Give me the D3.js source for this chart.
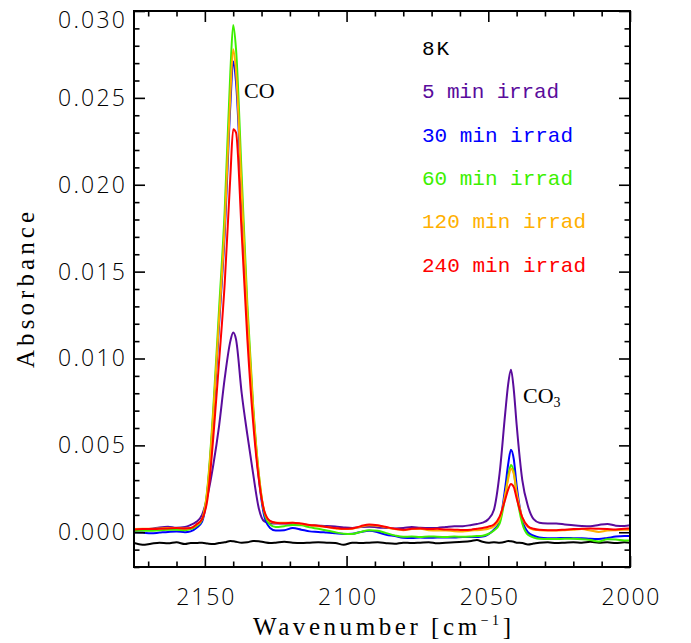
<!DOCTYPE html>
<html>
<head>
<meta charset="utf-8">
<script src="https://cdn.jsdelivr.net/npm/d3@7"></script>
<style>
  html, body { margin: 0; padding: 0; background: #fff; }
  svg { display: block; }
</style>
</head>
<body>
<svg id="chart" width="691" height="643"></svg>
<script>
// ---- DATA (absorbance in units of 10^-3) ----
const wavenumber = [2175,2172,2169,2166,2163,2160,2157,
  2155,2153,2151,2149,2147,2145,2143,2141,2140,2139,2137,2135,2133,2131,2129,2127,2125,
  2122,2119,2116,2113,2110,2107,2104,2101,2098,2095,2092,2089,2086,2083,2080,2077,2074,2071,2068,2065,2062,2059,2056,
  2054,2052,2050,2048,2046,2044,2043,2042,2041,2040,2038,2036,2034,2032,
  2029,2026,2023,2020,2017,2014,2011,2008,2005,2002,2000];

const k8 = [-0.62,-0.72,-0.66,-0.6,-0.64,-0.58,-0.68,
  -0.62,-0.62,-0.6,-0.65,-0.68,-0.62,-0.58,-0.5,-0.52,-0.55,-0.6,-0.58,-0.5,-0.52,-0.58,-0.62,-0.6,
  -0.55,-0.6,-0.62,-0.6,-0.58,-0.6,-0.62,-0.72,-0.6,-0.62,-0.6,-0.58,-0.63,-0.66,-0.6,-0.62,-0.6,-0.58,-0.64,-0.6,-0.58,-0.55,-0.5,
  -0.45,-0.55,-0.6,-0.58,-0.6,-0.55,-0.5,-0.52,-0.55,-0.6,-0.62,-0.7,-0.65,-0.6,
  -0.58,-0.62,-0.6,-0.58,-0.6,-0.55,-0.6,-0.58,-0.62,-0.58,-0.6];

const irrad5 = [0.15,0.18,0.2,0.28,0.32,0.26,0.3,
  0.42,0.6,1.0,2.15,3.9,6.1,8.85,11.0,11.5,11.1,8.0,5.6,3.4,1.4,0.62,0.52,0.5,
  0.5,0.48,0.45,0.4,0.38,0.36,0.33,0.28,0.25,0.3,0.32,0.28,0.25,0.22,0.24,0.3,0.26,0.24,0.25,0.3,0.35,0.35,0.42,
  0.48,0.55,0.75,1.3,3.4,6.9,8.5,9.35,8.2,6.2,3.0,1.5,0.75,0.55,
  0.51,0.5,0.45,0.4,0.36,0.34,0.42,0.48,0.38,0.36,0.4];

const irrad30 = [0.0,-0.02,-0.06,-0.02,0.02,0.05,0.0,
  0.05,0.25,0.6,2.5,6.7,11.9,17.2,24.6,27.1,25.9,19.2,12.3,7.0,3.2,0.9,0.25,0.1,
  0.12,0.24,0.15,0.05,0.02,-0.02,-0.06,-0.1,-0.08,0.02,0.08,0.0,-0.15,-0.22,-0.32,-0.33,-0.3,-0.32,-0.3,-0.3,-0.3,-0.28,-0.28,
  -0.27,-0.25,-0.12,0.15,0.6,2.6,3.9,4.75,4.2,2.7,0.7,0.0,-0.2,-0.3,
  -0.34,-0.34,-0.33,-0.34,-0.35,-0.38,-0.39,-0.33,-0.25,-0.22,-0.22];

const irrad60 = [0.09,0.1,0.08,0.12,0.14,0.14,0.12,
  0.18,0.35,0.7,2.7,7.2,12.8,18.5,26.5,29.2,27.8,20.5,13.1,7.4,3.4,1.1,0.45,0.3,
  0.35,0.42,0.4,0.28,0.2,0.1,0.0,-0.08,-0.1,0.02,0.12,0.08,-0.05,-0.18,-0.26,-0.25,-0.27,-0.24,-0.26,-0.27,-0.25,-0.26,-0.24,
  -0.22,-0.2,-0.1,0.1,0.5,2.1,3.2,3.87,3.45,2.2,0.5,-0.15,-0.3,-0.38,
  -0.39,-0.39,-0.38,-0.38,-0.4,-0.45,-0.53,-0.4,-0.42,-0.47,-0.48];

const irrad120 = [0.18,0.2,0.2,0.22,0.25,0.24,0.22,
  0.25,0.4,0.75,2.6,6.9,12.2,17.6,25.2,27.8,26.5,19.6,12.6,7.2,3.4,1.2,0.62,0.55,
  0.55,0.55,0.48,0.4,0.35,0.3,0.22,0.18,0.2,0.32,0.4,0.38,0.28,0.18,0.12,0.18,0.2,0.12,0.1,0.1,0.06,0.05,0.1,
  0.12,0.15,0.2,0.35,0.75,2.2,3.05,3.65,3.35,2.3,0.85,0.3,0.15,0.12,
  0.1,0.1,0.12,0.15,0.18,0.1,0.02,0.1,0.12,0.14,0.15];

const irrad240 = [0.16,0.18,0.18,0.2,0.22,0.24,0.22,
  0.24,0.45,0.75,2.0,5.5,9.8,14.3,20.5,23.2,23.0,17.2,11.1,6.4,3.1,1.2,0.65,0.55,
  0.52,0.55,0.5,0.42,0.38,0.3,0.25,0.2,0.22,0.35,0.45,0.4,0.3,0.2,0.14,0.2,0.22,0.18,0.2,0.16,0.15,0.13,0.15,
  0.2,0.25,0.32,0.45,0.9,1.9,2.45,2.78,2.6,1.95,0.85,0.35,0.2,0.14,
  0.12,0.12,0.15,0.18,0.2,0.22,0.2,0.18,0.16,0.2,0.22];

const seriesNames = ["8K", "5 min irrad", "30 min irrad", "60 min irrad", "120 min irrad", "240 min irrad"];
const seriesValues = [k8, irrad5, irrad30, irrad60, irrad120, irrad240];
const seriesColors = ["#000000", "#5a0c9c", "#0000ff", "#3cf000", "#ffb000", "#ff0000"];

const xMajorTicks = [2150, 2100, 2050, 2000];
const xTickLabels = ["2150", "2100", "2050", "2000"];
const yMajorTicks = [0, 5, 10, 15, 20, 25, 30];
const yTickLabels = ["0.000", "0.005", "0.010", "0.015", "0.020", "0.025", "0.030"];

// ---- LAYOUT ----
const svg = d3.select("#chart");
const L = 134, R = 630, T = 11, B = 567;
const x = d3.scaleLinear().domain([2175, 2000]).range([L, R]);
const y = d3.scaleLinear().domain([-2, 30]).range([B, T]);

const xMinor = d3.range(2170, 1999, -10).filter(v => v % 50 !== 0);
const yMinor = d3.range(-2, 30.5, 1).filter(v => v % 5 !== 0);

function styleAxis(g) {
  g.select(".domain").remove();
  g.selectAll(".tick line").attr("stroke", "#000").attr("stroke-width", 1.6);
}

// curves
svg.append("clipPath").attr("id", "clip").append("rect")
  .attr("x", L).attr("y", T).attr("width", R - L).attr("height", B - T);

const line = d3.line()
  .x((d, i) => x(wavenumber[i]))
  .y(d => y(d))
  .curve(d3.curveMonotoneX);

const curves = svg.append("g").attr("clip-path", "url(#clip)");
seriesValues.forEach((vals, s) => {
  curves.append("path")
    .attr("d", line(vals))
    .attr("fill", "none")
    .attr("stroke", seriesColors[s])
    .attr("stroke-width", 2)
    .attr("stroke-linejoin", "round");
});

// axes
const tickFont = "'Open Sans', 'DejaVu Sans', sans-serif";
const gB = svg.append("g").attr("transform", `translate(0,${B})`)
  .call(d3.axisBottom(x).tickValues(xMajorTicks).tickSize(-11).tickPadding(22)
    .tickFormat((d, i) => xTickLabels[i]));
styleAxis(gB);
gB.selectAll("text").attr("font-family", tickFont).attr("font-weight", 300).attr("font-size", 23).attr("fill", "#000")
  .attr("textLength", 58).attr("lengthAdjust", "spacing");
svg.append("g").attr("transform", `translate(0,${B})`)
  .call(d3.axisBottom(x).tickValues(xMinor).tickSize(-5.5).tickFormat("")).call(styleAxis);

const gT = svg.append("g").attr("transform", `translate(0,${T})`)
  .call(d3.axisTop(x).tickValues(xMajorTicks).tickSize(-11).tickFormat(""));
styleAxis(gT);
svg.append("g").attr("transform", `translate(0,${T})`)
  .call(d3.axisTop(x).tickValues(xMinor).tickSize(-5.5).tickFormat("")).call(styleAxis);

const gL = svg.append("g").attr("transform", `translate(${L},0)`)
  .call(d3.axisLeft(y).tickValues(yMajorTicks).tickSize(-11).tickPadding(9)
    .tickFormat((d, i) => yTickLabels[i]));
styleAxis(gL);
gL.selectAll("text").attr("font-family", tickFont).attr("font-weight", 300).attr("font-size", 23).attr("fill", "#000")
  .attr("textLength", 67).attr("lengthAdjust", "spacing");
// the topmost label sits just inside the frame, as in the original
gL.selectAll(".tick").filter(d => d === 30).select("text").attr("y", 9.5);
svg.append("g").attr("transform", `translate(${L},0)`)
  .call(d3.axisLeft(y).tickValues(yMinor).tickSize(-5.5).tickFormat("")).call(styleAxis);

svg.append("g").attr("transform", `translate(${R},0)`)
  .call(d3.axisRight(y).tickValues(yMajorTicks).tickSize(-11).tickFormat("")).call(styleAxis);
svg.append("g").attr("transform", `translate(${R},0)`)
  .call(d3.axisRight(y).tickValues(yMinor).tickSize(-5.5).tickFormat("")).call(styleAxis);

// frame
svg.append("rect").attr("x", L).attr("y", T).attr("width", R - L).attr("height", B - T)
  .attr("fill", "none").attr("stroke", "#000").attr("stroke-width", 2);

// axis titles
const titleFont = "'Liberation Serif', serif";
const xt = svg.append("text").attr("x", (252 + 512) / 2).attr("y", 635)
  .attr("text-anchor", "middle").attr("font-family", titleFont).attr("font-size", 25)
  .attr("textLength", 258).attr("lengthAdjust", "spacing");
xt.append("tspan").text("Wavenumber [cm");
xt.append("tspan").attr("font-size", 14).attr("dy", -10).text("−1");
xt.append("tspan").attr("dy", 10).text("]");

svg.append("text").attr("transform", "translate(34,290) rotate(-90)")
  .attr("text-anchor", "middle").attr("font-family", titleFont).attr("font-size", 25)
  .attr("textLength", 156).attr("lengthAdjust", "spacing")
  .text("Absorbance");

// legend
const legendFont = "'Liberation Mono', monospace";
const legendWidths = [27, 137, 151, 151, 164, 164];
seriesNames.forEach((n, i) => {
  svg.append("text").attr("x", 422).attr("y", 55 + i * 43.3)
    .attr("font-family", legendFont).attr("font-size", 21)
    .attr("fill", seriesColors[i])
    .attr("textLength", legendWidths[i]).attr("lengthAdjust", "spacing")
    .text(n);
});

// peak labels
const peakFont = "'Liberation Serif', serif";
svg.append("text").attr("x", 244).attr("y", 98).attr("font-family", peakFont)
  .attr("font-size", 22).text("CO");
const co3 = svg.append("text").attr("x", 523).attr("y", 403).attr("font-family", peakFont)
  .attr("font-size", 22);
co3.append("tspan").text("CO");
co3.append("tspan").attr("font-size", 14).attr("dy", 4).text("3");
</script>
</body>
</html>
